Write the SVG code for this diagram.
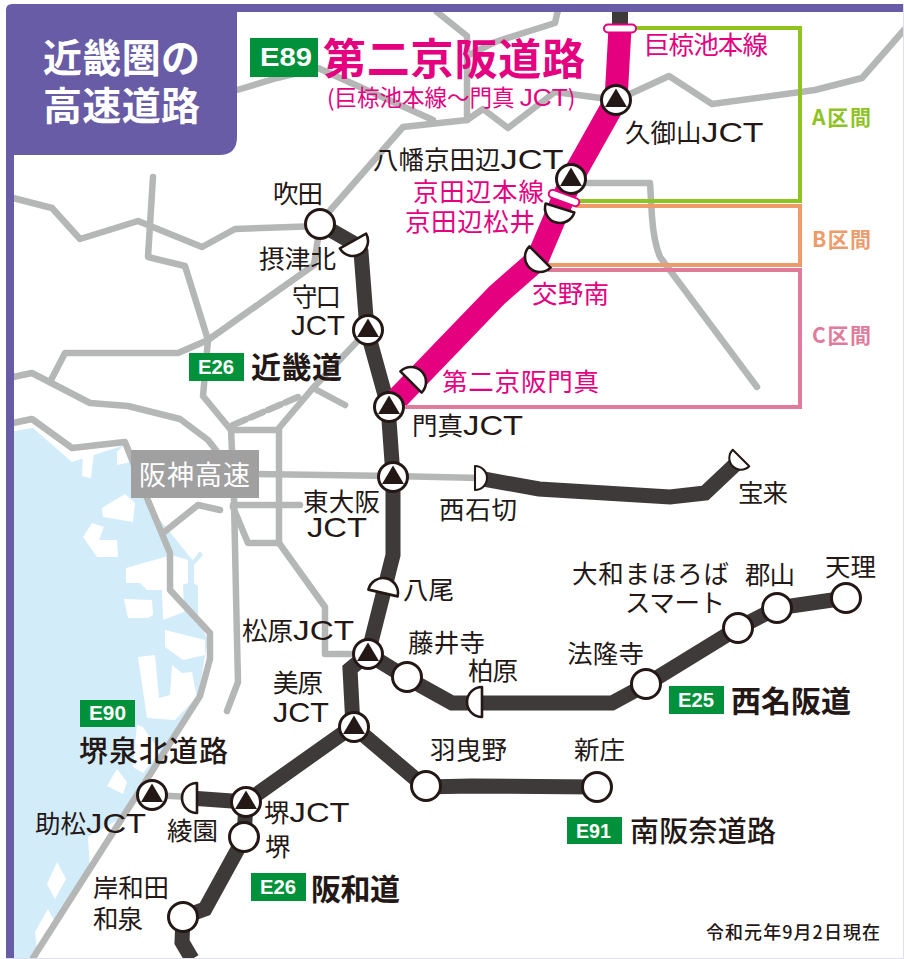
<svg xmlns="http://www.w3.org/2000/svg" width="904" height="959" viewBox="0 0 904 959">
<style>
text{font-family:"Noto Sans CJK JP","Noto Sans",sans-serif;fill:#231815}
.l{font-size:25.500px}
.j{font-family:"Liberation Sans",Arial,sans-serif;font-size:28px}
.p{fill:#e4007f}
.b{font-size:30px;font-weight:700}
.t{font-size:39px;font-weight:700;fill:#fff}
.e{font-family:"Liberation Sans",Arial,sans-serif;font-size:20px;font-weight:700;fill:#fff}
.k{font-size:21px;font-weight:700}
.g{fill:none;stroke:#b5b6b6;stroke-width:6.500;stroke-linejoin:round;stroke-linecap:round}
.d{fill:none;stroke:#3e3a39;stroke-width:15;stroke-linejoin:miter}
.badge{fill:#00913a}
.n{fill:#fff;stroke:#231815;stroke-width:3}
.tri{fill:#231815}
.h{fill:#fff;stroke:#231815;stroke-width:2.600;stroke-linejoin:round}
.bar{fill:#fff;stroke:#e4007f;stroke-width:2}
</style>
<defs>
<g id="jct"><circle class="n" r="14.500"/><path class="tri" d="M0-11.500L11 7H-11Z"/></g>
<circle id="ic" class="n" r="14.500"/>
<path id="half" class="h" d="M-15 0A15 15 0 0 0 15 0Z"/>
</defs>
<rect width="904" height="959" fill="#fff"/>
<g id="sea">
<path fill="#d3ecf9" d="M14 431L33 428 72 462 125 445 147 498 160 520 190 557 193 560 200 551 203 555 194 565V583L198 586V620L208 640 205 656 197 702 152 773 143 780 123 817 88 837 90 870 30 958H14Z"/>
<g fill="#fff">
<path d="M83 452L94 452 91 478 82 476Z"/>
<path d="M117 452L125 444 131 462 117 465Z"/>
<path d="M102 508L125 494 135 503 133 522 103 517Z"/>
<path d="M83 537L92 523 104 527 99 540 117 540 118 557 97 557Z"/>
<path d="M126 568L172 555 188 560V583L183 585 184 612 163 620 162 590H147L140 583H126Z"/>
<path d="M124 599L152 600 153 615 148 618 128 618Z"/>
<path d="M165 630L205 640 205 655 183 660 165 647Z"/>
<path d="M138 657L155 655 159 698 170 695 172 665 182 673 192 672 197 697 175 720 147 718Z"/>
<path d="M137 725L143 727 160 752 143 773 133 767Z"/>
<path d="M117 769L127 782 123 794 107 786Z"/>
<path d="M57 862L66 879 55 899 47 884Z"/>
<path d="M48 909L55 922 37 949 35 932Z"/>
</g>
</g>
<g id="connectors">
<g class="g">
<path d="M13 198L52 208 80 239 138 221 202 247 235 229 320 226"/>
<path d="M153 177L148 257 185 266 208 340 203 396 231 430"/>
<path d="M437 12L467 36V120L403 127 320 222"/>
<path d="M237 90L277 78 318 68 433 120"/>
<path d="M467 120L483 109 508 128 555 92 616 100"/>
<path d="M558 10L555 23 495 42 467 56"/>
<path d="M617 100L669 76 712 104 815 90 862 78 904 30"/>
<path d="M570 183H650L652 217Q654 243 660 257L757 387"/>
<path d="M320 225L314 265 208 340 178 353H65L50 382"/>
<path d="M13 377L32 373 90 403 128 406 180 419 208 440 222 458"/>
<path d="M13 423L32 419 72 448 125 442 147 498 170 553V590L210 633V659L200 696 33 958"/>
<path d="M163 533L198 505 220 510"/>
<path d="M231 428L234 500 237 640 238 682 227 711"/>
<path d="M231 430H279V543H248L233 507"/>
<path d="M279 543L325 607V654H350"/>
<path d="M279 428L313 388 369 329"/>
<path d="M313 388L345 405"/>
<path d="M233 425L298 397" stroke-dasharray="14 5"/>
<path d="M255 474L393 476 480 478"/>
<path d="M233 505H300"/>
<path d="M152 795L190 797"/>
</g>
<path d="M620 28V12" fill="none" stroke="#3e3a39" stroke-width="16"/>
<path class="d" d="M320 224L355 244 361 252 367 330 388 406 393 476V555L368 654"/>
<path class="d" d="M368 654L350 669 353 726 246 802 244 838 205 909 183 917 182 942 192 959"/>
<path class="d" d="M368 654L407 678 452 703H612L647 684 738 628 777 608 846 598"/>
<path class="d" d="M353 726L425 787 472 786 597 787"/>
<path class="d" d="M190 798L246 802"/>
<path class="d" d="M478 478L539 489 670 497 705 493 740 460"/>
<path d="M620 28L616 100 571 180 537 260 497 295 393 403" fill="none" stroke="#e4007f" stroke-width="23"/>
<g fill="none" stroke-width="4">
<path stroke="#8fc31f" d="M630 28H800V201H577"/>
<path stroke="#ed9b6a" d="M575 206H800V265H548"/>
<path stroke="#e07b9b" d="M548 270H800V407H403"/>
</g>
</g>
<g id="frame">
<path fill="#675ca5" d="M6 10Q6 4 12 4H904V12H237V137Q237 155 219 155H14V958H6Z"/>
<path fill="none" stroke="#dfdfee" stroke-width="1" d="M6 958.500H903.500V4"/>
<text class="t" x="43" y="72" textLength="157">近畿圏の</text>
<text class="t" x="43" y="120" textLength="157">高速道路</text>
</g>
<g id="title">
<rect class="badge" x="250" y="38" width="68" height="39"/>
<text class="e" x="260" y="66" textLength="52" lengthAdjust="spacingAndGlyphs" style="font-size:25px">E89</text>
<text class="p" x="323" y="75" textLength="262" style="font-size:43px;font-weight:700">第二京阪道路</text>
<text class="p" x="327" y="106" style="font-size:22.500px">(巨椋池本線〜門真 <tspan class="j" style="font-size:24px;fill:#e4007f" textLength="48" lengthAdjust="spacingAndGlyphs">JCT</tspan>)</text>
</g>
<g id="node-suita"><use href="#ic" x="320" y="224"/><text class="l" x="273" y="203" textLength="50">吹田</text></g>
<g id="node-settsukita"><use href="#half" transform="translate(353 241) rotate(-29)"/><text class="l" x="259" y="268" textLength="77">摂津北</text></g>
<g id="node-moriguchi"><use href="#jct" x="368" y="330"/><text class="l" x="292" y="306" textLength="49">守口</text><text class="j" x="291" y="335" textLength="54" lengthAdjust="spacingAndGlyphs">JCT</text></g>
<g id="node-kadoma"><use href="#half" transform="translate(411 382) rotate(225)"/><text class="l p" x="442" y="391" textLength="157">第二京阪門真</text></g>
<g id="node-kadoma-jct"><use href="#jct" x="389" y="407"/><text class="l" x="412" y="435">門真<tspan class="j" textLength="60" lengthAdjust="spacingAndGlyphs">JCT</tspan></text></g>
<g id="node-higashiosaka"><use href="#jct" x="393" y="477"/><text class="l" x="303" y="511" textLength="77">東大阪</text><text class="j" x="307" y="537" textLength="60" lengthAdjust="spacingAndGlyphs">JCT</text></g>
<g id="node-nishiishikiri"><use href="#half" transform="translate(475 478) rotate(-90) scale(.8)"/><text class="l" x="439" y="519" textLength="78">西石切</text></g>
<g id="node-horai"><use href="#half" transform="translate(741 458) rotate(45) scale(.78)"/><text class="l" x="738" y="502" textLength="50">宝来</text></g>
<g id="node-yao"><use href="#half" transform="translate(383 593) rotate(193)"/><text class="l" x="403" y="599" textLength="51">八尾</text></g>
<g id="node-matsubara"><use href="#jct" x="368" y="654"/><text class="l" x="242" y="640">松原<tspan class="j" textLength="61" lengthAdjust="spacingAndGlyphs">JCT</tspan></text></g>
<g id="node-fujiidera"><use href="#ic" x="407" y="677"/><text class="l" x="408" y="652" textLength="77">藤井寺</text></g>
<g id="node-kashiwara"><use href="#half" transform="translate(482 702) rotate(90)"/><text class="l" x="468" y="680" textLength="50">柏原</text></g>
<g id="node-horyuji"><use href="#ic" x="646" y="684"/><text class="l" x="567" y="663" textLength="77">法隆寺</text></g>
<g id="node-yamato"><use href="#ic" x="738" y="628"/><text class="l" x="572" y="583" textLength="157">大和まほろば</text><text class="l" x="625" y="612" textLength="100">スマート</text></g>
<g id="node-koriyama"><use href="#ic" x="777" y="608"/><text class="l" x="745" y="584" textLength="50">郡山</text></g>
<g id="node-tenri"><use href="#ic" x="846" y="598"/><text class="l" x="825" y="576" textLength="51">天理</text></g>
<g id="node-mihara"><use href="#jct" x="354" y="727"/><text class="l" x="273" y="692" textLength="50">美原</text><text class="j" x="273" y="722" textLength="56" lengthAdjust="spacingAndGlyphs">JCT</text></g>
<g id="node-habikino"><use href="#ic" x="426" y="786"/><text class="l" x="430" y="759" textLength="77">羽曳野</text></g>
<g id="node-shinjo"><use href="#ic" x="597" y="787"/><text class="l" x="574" y="759" textLength="51">新庄</text></g>
<g id="node-sukematsu"><use href="#jct" x="152" y="795"/><text class="l" x="35" y="833">助松<tspan class="j" textLength="60" lengthAdjust="spacingAndGlyphs">JCT</tspan></text></g>
<g id="node-ayazono"><use href="#half" transform="translate(197 798) rotate(90)"/><text class="l" x="167" y="840" textLength="51">綾園</text></g>
<g id="node-sakai-jct"><use href="#jct" x="246" y="802"/><text class="l" x="264" y="822">堺<tspan class="j" textLength="60" lengthAdjust="spacingAndGlyphs">JCT</tspan></text></g>
<g id="node-sakai"><use href="#ic" x="244" y="837"/><text class="l" x="265" y="856">堺</text></g>
<g id="node-kishiwada"><use href="#ic" x="183" y="917"/><text class="l" x="93" y="897" textLength="76">岸和田</text><text class="l" x="93" y="928" textLength="50">和泉</text></g>
<g id="node-ogura"><rect class="bar" x="604" y="24.500" width="32" height="8" rx="4"/><text class="l p" x="644" y="54" textLength="124">巨椋池本線</text></g>
<g id="node-kumiyama"><use href="#jct" x="616" y="100"/><text class="l" x="625" y="142">久御山<tspan class="j" textLength="62" lengthAdjust="spacingAndGlyphs">JCT</tspan></text></g>
<g id="node-yawata"><use href="#jct" x="571" y="179"/><text class="l" x="373" y="169">八幡京田辺<tspan class="j" textLength="63" lengthAdjust="spacingAndGlyphs">JCT</tspan></text></g>
<g id="node-tanabe-honsen"><rect class="bar" x="-16" y="-4" width="32" height="8" rx="4" transform="translate(564 198) rotate(20)"/><text class="l p" x="413" y="201" textLength="131">京田辺本線</text></g>
<g id="node-matsui"><use href="#half" transform="translate(560 208) rotate(17)"/><text class="l p" x="405" y="231" textLength="130">京田辺松井</text></g>
<g id="node-katano"><use href="#half" transform="translate(540 257) rotate(45)"/><text class="l p" x="532" y="303" textLength="77">交野南</text></g>
<g id="hanshin"><rect x="131" y="450" width="128" height="48" fill="#a0a0a0"/><text x="139" y="485" textLength="111" style="font-size:27px;fill:#fff">阪神高速</text></g>
<g id="road-kinki"><rect class="badge" x="189" y="353" width="55" height="28"/><text class="e" x="198" y="374" textLength="36" lengthAdjust="spacingAndGlyphs">E26</text><text class="b" x="251" y="378" textLength="91">近畿道</text></g>
<g id="road-nishimeihan"><rect class="badge" x="669" y="686" width="55" height="28"/><text class="e" x="678" y="707" textLength="36" lengthAdjust="spacingAndGlyphs">E25</text><text class="b" x="731" y="712" textLength="120">西名阪道</text></g>
<g id="road-minamihanna"><rect class="badge" x="567" y="817" width="55" height="27"/><text class="e" x="576" y="838" textLength="35" lengthAdjust="spacingAndGlyphs">E91</text><text class="b" x="630" y="842" textLength="146" style="font-size:29px;font-weight:500">南阪奈道路</text></g>
<g id="road-senboku"><rect class="badge" x="80" y="700" width="55" height="27"/><text class="e" x="89" y="720" textLength="37" lengthAdjust="spacingAndGlyphs">E90</text><text class="b" x="79" y="762" textLength="149" style="font-size:29px;font-weight:500">堺泉北道路</text></g>
<g id="road-hanwa"><rect class="badge" x="251" y="873" width="55" height="28"/><text class="e" x="260" y="894" textLength="36" lengthAdjust="spacingAndGlyphs">E26</text><text class="b" x="311" y="900" textLength="89">阪和道</text></g>
<g id="sections">
<text class="k" x="812" y="125" textLength="59" style="fill:#8fc31f">A区間</text>
<text class="k" x="812" y="247" textLength="59" style="fill:#ed9b6a">B区間</text>
<text class="k" x="812" y="343" textLength="59" style="fill:#e07b9b">C区間</text>
</g>
<text x="706" y="939" textLength="174" style="font-size:18px;font-weight:500">令和元年9月2日現在</text>
</svg>
